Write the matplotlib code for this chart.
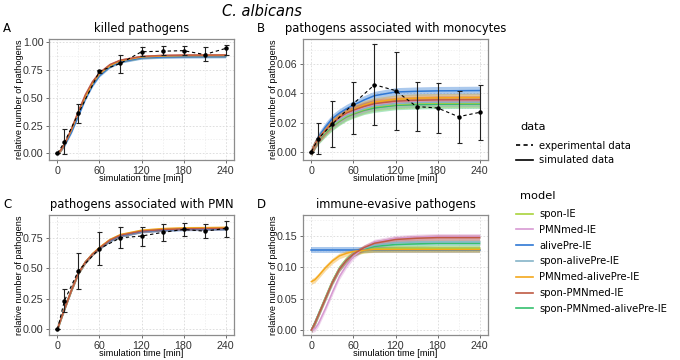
import matplotlib
matplotlib.use("Agg")
import matplotlib.pyplot as plt
from matplotlib.lines import Line2D
from matplotlib.ticker import MultipleLocator

# experimental time points and simulation time grid
t_exp = [0, 10, 30, 60, 90, 120, 150, 180, 210, 240]
t_sim = [0, 5, 10, 20, 30, 40, 50, 60, 75, 90, 120, 150, 180, 240]

models = ["spon-IE", "PMNmed-IE", "alivePre-IE", "spon-alivePre-IE",
          "PMNmed-alivePre-IE", "spon-PMNmed-IE", "spon-PMNmed-alivePre-IE"]
model_colors = ["#a9d33c", "#d89ad3", "#2f78d4", "#85b4c8",
                "#f4a81c", "#bf5a43", "#35c06e"]

# A: killed pathogens
killed_exp = [0, 0.10, 0.36, 0.74, 0.81, 0.915, 0.92, 0.925, 0.89, 0.945]
killed_lo = [0, -0.01, 0.27, 0.72, 0.72, 0.875, 0.89, 0.89, 0.83, 0.89]
killed_hi = [0, 0.22, 0.445, 0.75, 0.89, 0.955, 0.97, 0.965, 0.96, 0.98]
killed_sim = [
    [0, .03, .08, .21, .37, .51, .63, .715, .79, .832, .866, .875, .878, .880],
    [0, .03, .08, .21, .37, .52, .64, .72, .795, .836, .869, .878, .881, .882],
    [0, .03, .07, .19, .34, .49, .61, .70, .78, .824, .860, .868, .870, .872],
    [0, .03, .07, .20, .35, .50, .62, .705, .785, .828, .862, .870, .873, .874],
    [0, .03, .08, .21, .37, .51, .63, .715, .79, .834, .868, .877, .880, .881],
    [0, .03, .08, .22, .38, .53, .645, .725, .80, .84, .873, .882, .885, .886],
    [0, .03, .08, .21, .36, .51, .625, .71, .787, .83, .864, .873, .876, .877],
]

# B: associated with monocytes
mono_exp = [0, 0.009, 0.019, 0.033, 0.046, 0.042, 0.031, 0.030, 0.024, 0.027]
mono_lo = [0, -0.002, 0.003, 0.012, 0.018, 0.015, 0.014, 0.013, 0.0057, 0.008]
mono_hi = [0, 0.020, 0.035, 0.048, 0.074, 0.0685, 0.048, 0.047, 0.042, 0.046]
mono_sim = [
    [0, .005, .0085, .0135, .018, .0215, .0245, .0265, .029, .031, .0325, .0332, .0334, .0335],
    [0, .005, .009, .0145, .0195, .023, .026, .028, .0305, .0325, .0342, .0348, .0351, .0352],
    [0, .005, .010, .017, .0228, .0265, .0295, .032, .0355, .0385, .041, .0415, .0418, .042],
    [0, .005, .0085, .014, .0185, .022, .025, .027, .0295, .0315, .033, .0337, .034, .034],
    [0, .005, .009, .015, .020, .024, .027, .029, .032, .034, .036, .0368, .037, .0372],
    [0, .005, .009, .0145, .0195, .0235, .0265, .0285, .031, .033, .0347, .0353, .0356, .0357],
    [0, .0045, .008, .013, .0175, .021, .024, .026, .0285, .030, .0318, .0323, .0326, .0327],
]

# C: associated with PMN
pmn_exp = [0, 0.235, 0.48, 0.66, 0.749, 0.763, 0.793, 0.817, 0.803, 0.825]
pmn_lo = [0, 0.14, 0.33, 0.526, 0.662, 0.684, 0.722, 0.763, 0.749, 0.752]
pmn_hi = [0, 0.333, 0.627, 0.795, 0.834, 0.834, 0.858, 0.871, 0.86, 0.89]
pmn_sim = [
    [0, .085, .165, .32, .46, .55, .615, .665, .73, .77, .805, .818, .824, .828],
    [0, .085, .165, .32, .46, .55, .615, .665, .73, .768, .802, .815, .821, .825],
    [0, .085, .165, .32, .46, .55, .615, .662, .725, .765, .80, .812, .818, .822],
    [0, .085, .165, .32, .46, .55, .615, .665, .728, .767, .802, .815, .82, .824],
    [0, .085, .165, .32, .46, .552, .618, .67, .735, .775, .81, .823, .829, .833],
    [0, .085, .165, .32, .46, .55, .615, .665, .73, .77, .804, .816, .822, .826],
    [0, .085, .165, .32, .46, .55, .615, .664, .728, .768, .803, .816, .822, .826],
]

# D: immune-evasive pathogens
ie_sim = [
    [0, .012, .025, .052, .078, .099, .113, .122, .127, .129, .130, .130, .130, .130],
    [0, .002, .010, .034, .060, .085, .103, .117, .131, .140, .146, .148, .149, .149],
    [.127, .127, .127, .127, .127, .127, .127, .127, .127, .127, .127, .127, .127, .127],
    [0, .012, .025, .051, .077, .098, .112, .122, .130, .135, .139, .140, .140, .140],
    [.077, .080, .086, .099, .110, .118, .122, .125, .127, .128, .128, .128, .128, .128],
    [0, .011, .024, .050, .076, .097, .111, .121, .131, .138, .144, .146, .147, .147],
    [0, .012, .025, .051, .077, .098, .112, .121, .129, .133, .136, .137, .138, .138],
]

# half-width of the simulation ribbons per panel
band = {"A": 0.012, "B": 0.003, "C": 0.012, "D": 0.0045}

fig = plt.figure(figsize=(6.8, 3.6), dpi=100)

W, H = 680, 360


def axes_px(left, top, right, bottom):
    return fig.add_axes([left / W, 1 - bottom / H, (right - left) / W, (bottom - top) / H])


def style(ax, ylim, ystep, title, letter, lx, ly):
    ax.set_xlim(-12, 252)
    ax.set_ylim(*ylim)
    ax.xaxis.set_major_locator(MultipleLocator(60))
    ax.xaxis.set_minor_locator(MultipleLocator(30))
    ax.yaxis.set_major_locator(MultipleLocator(ystep))
    ax.yaxis.set_minor_locator(MultipleLocator(ystep / 2))
    ax.yaxis.set_major_formatter(plt.FormatStrFormatter("%.2f"))
    ax.grid(which="major", color="#d9d9d9", lw=0.6, ls=(0, (2, 2)))
    ax.grid(which="minor", color="#ececec", lw=0.5, ls=(0, (2, 2)))
    ax.set_axisbelow(True)
    for s in ax.spines.values():
        s.set_color("#8c8c8c")
        s.set_linewidth(0.9)
    ax.tick_params(which="major", length=2.5, width=0.6, color="#555555",
                   labelsize=7.7, labelcolor="#333333", pad=1.5)
    ax.tick_params(which="minor", length=0)
    for lab in ax.get_xticklabels() + ax.get_yticklabels():
        lab.set_family("Liberation Sans")
    ax.set_xlabel("simulation time [min]", family="Liberation Sans", fontsize=6.6, labelpad=-1)
    ax.set_ylabel("relative number of pathogens", family="Liberation Sans", fontsize=6.6, labelpad=-1)
    ax.set_title(title, fontsize=8.3, pad=5)
    fig.text(lx / W, 1 - ly / H, letter, fontsize=8.5, ha="left", va="center")


def draw_sim(ax, sims, hw):
    order = [6, 0, 3, 1, 2, 4, 5]
    for i in order:
        y = sims[i]
        ax.fill_between(t_sim, [v - hw for v in y], [v + hw for v in y],
                        color=model_colors[i], alpha=0.4, lw=0)
        ax.plot(t_sim, y, color=model_colors[i], lw=1.1)


def draw_exp(ax, mean, lo, hi):
    yerr = [[m - l for m, l in zip(mean, lo)], [h - m for h, m in zip(hi, mean)]]
    ax.errorbar(t_exp, mean, yerr=yerr, fmt="none", ecolor="#222222",
                elinewidth=0.8, capsize=1.8, capthick=0.8, zorder=5)
    ax.plot(t_exp, mean, color="black", ls=(0, (3, 2.5)), lw=0.8,
            marker="o", ms=2.2, zorder=6)


axA = axes_px(49, 39, 234, 160)
draw_sim(axA, killed_sim, band["A"])
draw_exp(axA, killed_exp, killed_lo, killed_hi)
style(axA, (-0.06, 1.03), 0.25, "killed pathogens", "A", 3, 29)

axB = axes_px(303, 39, 488, 160)
draw_sim(axB, mono_sim, band["B"])
draw_exp(axB, mono_exp, mono_lo, mono_hi)
style(axB, (-0.0058, 0.0775), 0.02, "pathogens associated with monocytes", "B", 257, 29)

axC = axes_px(49, 215, 234, 335)
draw_sim(axC, pmn_sim, band["C"])
draw_exp(axC, pmn_exp, pmn_lo, pmn_hi)
style(axC, (-0.045, 0.935), 0.25, "pathogens associated with PMN", "C", 3, 204)

axD = axes_px(303, 215, 488, 335)
draw_sim(axD, ie_sim, band["D"])
style(axD, (-0.008, 0.183), 0.05, "immune-evasive pathogens", "D", 257, 204)

fig.text(262 / W, 1 - 12 / H, "C. albicans", fontsize=10.5, style="italic",
         ha="center", va="center")

# legends: titles placed separately for ggplot-like spacing
fig.text(520 / W, 1 - 127 / H, "data", fontsize=8.2, ha="left", va="center")
data_handles = [Line2D([], [], color="black", ls=(0, (2.5, 2)), lw=1.2),
                Line2D([], [], color="black", lw=1.2)]
fig.legend(data_handles, ["experimental data", "simulated data"],
           loc="upper left", bbox_to_anchor=(516 / W, 1 - 141 / H),
           frameon=False, fontsize=7.2, handlelength=1.7, handletextpad=0.6,
           labelspacing=0.42, borderaxespad=0, borderpad=0)

fig.text(520 / W, 1 - 196 / H, "model", fontsize=8.2, ha="left", va="center")
model_handles = [Line2D([], [], color=c, lw=1.2) for c in model_colors]
fig.legend(model_handles, models,
           loc="upper left", bbox_to_anchor=(516 / W, 1 - 209 / H),
           frameon=False, fontsize=7.2, handlelength=1.7, handletextpad=0.6,
           labelspacing=0.58, borderaxespad=0, borderpad=0)

fig.savefig("out.png", dpi=100)
